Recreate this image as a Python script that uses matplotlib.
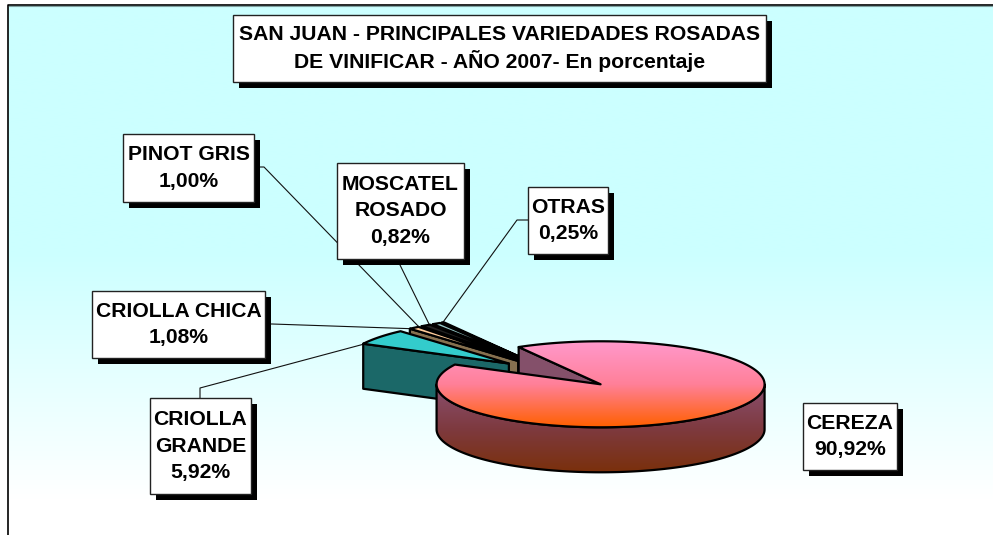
import numpy as np
import matplotlib
matplotlib.use("Agg")
import matplotlib.pyplot as plt
from matplotlib.patches import Polygon, Rectangle
from matplotlib.colors import LinearSegmentedColormap

plt.rcParams['font.family'] = ['Liberation Sans', 'DejaVu Sans']

# --- data (drawing order, counter-clockwise from the start angle)
categories = ["OTRAS", "MOSCATEL\nROSADO", "PINOT GRIS", "CRIOLLA CHICA", "CRIOLLA\nGRANDE", "CEREZA"]
values = [0.25, 0.82, 1.00, 1.08, 5.92, 90.92]
title_lines = "SAN JUAN - PRINCIPALES VARIEDADES ROSADAS\nDE VINIFICAR - AÑO 2007- En porcentaje"

top_colors = ["#000080", "#99CCCC", "#222222", "#FFCC99", "#33CCCC"]
wall_colors = ["#000040", "#101818", "#000000", "#86704F", "#1B6868"]

label_boxes = [(528, 187, 608, 254), (337, 163, 464, 259), (123, 134, 254, 202),
               (92, 291, 265, 358), (150, 398, 251, 494), (803, 403, 897, 470)]
leaders = [[(528, 220), (517, 220), (441, 325)],
           [(400, 259), (400, 265), (430, 326)],
           [(254, 167), (264, 167), (420, 328)],
           [(265, 324), (272, 324), (420, 329)],
           [(200, 398), (200, 388), (368, 343)],
           None]

# --- pie geometry
CX, CY = 556.7, 373.3
RX, RY = 164.0, 43.0
DEPTH = 45.0
EXPLODE = 0.37
START = 120.0
LW = 1.6


def pt(center, deg, r=1.0):
    a = np.radians(deg)
    return center[0] + RX * r * np.cos(a), center[1] - RY * r * np.sin(a)


def arc(center, a0, a1, n=160):
    t = np.radians(np.linspace(a0, a1, n))
    return np.column_stack([center[0] + RX * np.cos(t), center[1] - RY * np.sin(t)])


fig = plt.figure(figsize=(9.93, 5.35), dpi=100, facecolor="white")
ax = fig.add_axes([0, 0, 1, 1])
ax.set_xlim(0, 993)
ax.set_ylim(535, 0)
ax.axis("off")


def gradient(stops, extent, clip=None, z=1):
    cmap = LinearSegmentedColormap.from_list("g", stops)
    img = ax.imshow(np.linspace(0, 1, 256).reshape(-1, 1), cmap=cmap, aspect="auto",
                    extent=extent, zorder=z, interpolation="bilinear")
    if clip is not None:
        img.set_clip_path(clip)
    return img


# background
gradient(["#CCFFFF", "#CCFFFF", "#FFFFFF"], (8, 993, 500, 5), z=0)
ax.plot([8, 8, 993], [535, 4.5, 4.5], color="black", lw=1.2, zorder=0.5, solid_capstyle="butt")
ax.plot([9, 993], [6, 6], color="#7FA0A0", lw=0.8, zorder=0.5)
ax.set_xlim(0, 993)
ax.set_ylim(535, 0)

# leaders
for pts in leaders:
    if pts:
        xs, ys = zip(*pts)
        ax.plot(xs, ys, color="#111111", lw=0.8, zorder=1)

# slices
z = 2.0
angle = START
spans = []
for v in values:
    sweep = v / 100 * 360
    spans.append((angle, angle + sweep))
    angle += sweep

for i, (a0, a1) in enumerate(spans):
    mid = np.radians((a0 + a1) / 2)
    c = (CX + RX * EXPLODE * np.cos(mid), CY - RY * EXPLODE * np.sin(mid))
    if i < 5:
        # side face towards the viewer, then top face
        p = pt(c, a1)
        ax.add_patch(Polygon([c, p, (p[0], p[1] + DEPTH), (c[0], c[1] + DEPTH)], closed=True,
                             fc=wall_colors[i], ec="black", lw=LW, joinstyle="round", zorder=z))
        z += 0.01
        top = np.vstack([[c], arc(c, a0, a1, 30)])
        ax.add_patch(Polygon(top, closed=True, fc=top_colors[i], ec="black", lw=LW,
                             joinstyle="round", zorder=z))
        z += 0.01
    else:
        # inner cut face
        p = pt(c, a1)
        ax.add_patch(Polygon([c, p, (p[0], p[1] + DEPTH), (c[0], c[1] + DEPTH)], closed=True,
                             fc="#84506A", ec="black", lw=LW, joinstyle="round", zorder=z))
        z += 0.01
        # rim wall
        rim = arc(c, 180, 360)
        wall = np.vstack([rim, (rim + [0, DEPTH])[::-1]])
        wp = Polygon(wall, closed=True, fc="none", ec="none", transform=ax.transData)
        ax.add_patch(wp)
        gradient(["#8A5070", "#7E3A40", "#7A300C"], (c[0] - RX, c[0] + RX, c[1] + RY + DEPTH, c[1]), wp, z)
        z += 0.01
        ax.add_patch(Polygon(wall, closed=True, fc="none", ec="black", lw=LW, joinstyle="round", zorder=z))
        z += 0.01
        # top face
        top = np.vstack([[c], arc(c, a0, a1, 400)])
        tp = Polygon(top, closed=True, fc="none", ec="none", transform=ax.transData)
        ax.add_patch(tp)
        gradient(["#FF99CC", "#FF8099", "#FF6000"], (c[0] - RX, c[0] + RX, c[1] + RY, c[1] - RY), tp, z)
        z += 0.01
        ax.add_patch(Polygon(top, closed=True, fc="none", ec="black", lw=LW, joinstyle="round", zorder=z))
        z += 0.01


def box(x0, y0, x1, y1, text, fs, lsp):
    ax.add_patch(Rectangle((x0 + 6, y0 + 6), x1 - x0, y1 - y0, fc="black", ec="none", zorder=5))
    ax.add_patch(Rectangle((x0, y0), x1 - x0, y1 - y0, fc="white", ec="#222222", lw=1.0, zorder=6))
    ax.text((x0 + x1) / 2, (y0 + y1) / 2, text, ha="center", va="center", fontsize=fs,
            fontweight="bold", color="black", linespacing=lsp, zorder=7)


box(233, 15, 766, 82, title_lines, 15.2, 1.37)
for name, v, b in zip(categories, values, label_boxes):
    txt = name + "\n" + f"{v:.2f}%".replace(".", ",")
    box(*b, txt, 15.2, 1.48)

fig.savefig("out.png", dpi=100)
